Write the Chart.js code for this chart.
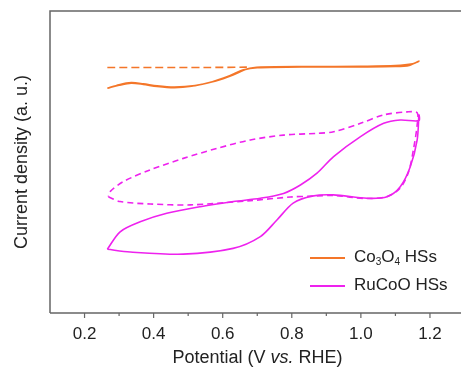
<!DOCTYPE html>
<html>
<head>
<meta charset="utf-8">
<script src="https://cdn.jsdelivr.net/npm/chart.js@4"></script>
<style>
html,body{margin:0;padding:0;background:#fff;overflow:hidden;width:461px;height:369px;}
#wrap{position:relative;width:470px;height:369px;}
#legend{position:absolute;left:310px;top:243px;font-family:"Liberation Sans",Arial,sans-serif;font-size:17px;color:#222;}
#legend .row{height:28px;line-height:28px;white-space:nowrap;}
#legend .sw{display:inline-block;width:35px;height:0;border-top:2px solid;margin-right:9px;vertical-align:middle;}
#legend sub{font-size:10px;vertical-align:-3px;line-height:0;}
#xtitle{position:absolute;left:50px;width:415px;top:346px;text-align:center;font-family:"Liberation Sans",Arial,sans-serif;font-size:18px;color:#222;line-height:22px;}
</style>
</head>
<body>
<div id="wrap">
<canvas id="c" width="470" height="369"></canvas>
<div id="legend">
  <div class="row"><span class="sw" style="border-color:#F47629"></span><span>Co<sub>3</sub>O<sub>4</sub> HSs</span></div>
  <div class="row"><span class="sw" style="border-color:#EE22EE"></span><span>RuCoO HSs</span></div>
</div>
<div id="xtitle">Potential (V <i>vs.</i> RHE)</div>
</div>
<script>
// Potential (V vs. RHE) and current density (a.u.)
const xTicks = [0.2, 0.4, 0.6, 0.8, 1.0, 1.2];
const minorTicks = [0.3, 0.5, 0.7, 0.9, 1.1];

const coSolidX = [0.266,0.30,0.335,0.37,0.41,0.46,0.52,0.58,0.63,0.67,0.71,0.85,1.0,1.10,1.15,1.168,
                  1.14,1.10,1.0,0.85,0.70,0.66,0.62,0.57,0.51,0.46,0.41,0.37,0.335,0.30,0.266];
const coSolidY = [7.44,7.56,7.63,7.59,7.52,7.48,7.53,7.68,7.88,8.08,8.14,8.16,8.17,8.19,8.25,8.34,
                  8.20,8.16,8.15,8.15,8.12,8.05,7.86,7.66,7.51,7.46,7.50,7.57,7.61,7.54,7.44];
const coDashX = [0.266,0.40,0.55,0.67];
const coDashY = [8.13,8.13,8.13,8.14];

const ruSolidX = [0.266,0.332,0.486,0.630,0.709,0.757,0.804,0.859,0.920,1.018,1.076,1.114,1.143,1.163,1.168,
                  1.168,1.114,1.066,0.999,0.921,0.873,0.825,0.776,0.709,0.631,0.535,0.438,0.361,0.303,0.266];
const ruSolidY = [2.11,2.02,1.95,2.14,2.53,3.08,3.64,3.87,3.91,3.80,3.85,4.18,4.84,5.73,6.56,
                  6.37,6.39,6.28,5.84,5.18,4.63,4.24,3.96,3.80,3.69,3.52,3.30,3.02,2.69,2.11];
const ruDashX = [0.269,0.303,0.390,0.506,0.680,0.796,0.859,0.920,1.018,1.076,1.114,1.138,1.152,1.163,1.163,
                 1.134,1.066,0.999,0.921,0.873,0.776,0.680,0.583,0.486,0.390,0.312,0.274,0.269];
const ruDashY = [3.85,3.69,3.61,3.58,3.72,3.84,3.87,3.89,3.79,3.86,4.14,4.67,5.40,6.23,6.63,
                 6.66,6.56,6.28,6.00,5.95,5.89,5.73,5.45,5.12,4.74,4.35,4.02,3.85];

const ORANGE = '#F47629', MAGENTA = '#EE22EE';
const pts = (xs, ys) => xs.map((x, i) => ({x, y: ys[i]}));

const frame = {
  id: 'frame',
  afterDraw(chart) {
    const {ctx, chartArea: a, scales: {x}} = chart;
    ctx.save();
    ctx.strokeStyle = '#666';
    ctx.lineWidth = 1.5;
    ctx.beginPath();
    ctx.moveTo(a.left, a.bottom); ctx.lineTo(a.left, a.top); ctx.lineTo(a.right, a.top);
    ctx.moveTo(a.left, a.bottom); ctx.lineTo(a.right, a.bottom);
    ctx.stroke();
    ctx.lineWidth = 1.2;
    ctx.beginPath();
    xTicks.forEach(v => { const p = x.getPixelForValue(v); ctx.moveTo(p, a.bottom); ctx.lineTo(p, a.bottom + 5); });
    minorTicks.forEach(v => { const p = x.getPixelForValue(v); ctx.moveTo(p, a.bottom); ctx.lineTo(p, a.bottom + 3); });
    ctx.stroke();
    ctx.restore();
  }
};

new Chart(document.getElementById('c'), {
  type: 'line',
  data: {
    datasets: [
      {data: pts(coDashX, coDashY), borderColor: ORANGE, borderDash: [8, 4]},
      {data: pts(coSolidX, coSolidY), borderColor: ORANGE},
      {data: pts(ruDashX, ruDashY), borderColor: MAGENTA, borderDash: [6, 4]},
      {data: pts(ruSolidX, ruSolidY), borderColor: MAGENTA}
    ]
  },
  options: {
    responsive: false,
    animation: false,
    layout: {padding: {top: 11, right: 5.5, left: 0, bottom: 0}},
    elements: {
      point: {radius: 0},
      line: {borderWidth: 1.6, tension: 0.3, fill: false}
    },
    plugins: {legend: {display: false}, tooltip: {enabled: false}},
    scales: {
      x: {
        type: 'linear', min: 0.1, max: 1.3,
        grid: {display: false, drawTicks: false},
        border: {display: false},
        afterBuildTicks(s) { s.ticks = xTicks.map(v => ({value: v})); },
        afterFit(s) { s.height = 56; s.paddingLeft = 0; s.paddingRight = 0; },
        ticks: {
          font: {family: '"Liberation Sans", Arial, sans-serif', size: 17},
          color: '#222', padding: 11, maxRotation: 0,
          callback: v => v.toFixed(1)
        }
      },
      y: {
        type: 'linear', min: 0, max: 10,
        grid: {display: false, drawTicks: false},
        border: {display: false},
        ticks: {display: false},
        afterFit(s) { s.width = 50; },
        title: {
          display: true, text: 'Current density (a. u.)',
          font: {family: '"Liberation Sans", Arial, sans-serif', size: 18},
          color: '#222', padding: {top: 11, bottom: 0}
        }
      }
    }
  },
  plugins: [frame]
});
</script>
</body>
</html>
